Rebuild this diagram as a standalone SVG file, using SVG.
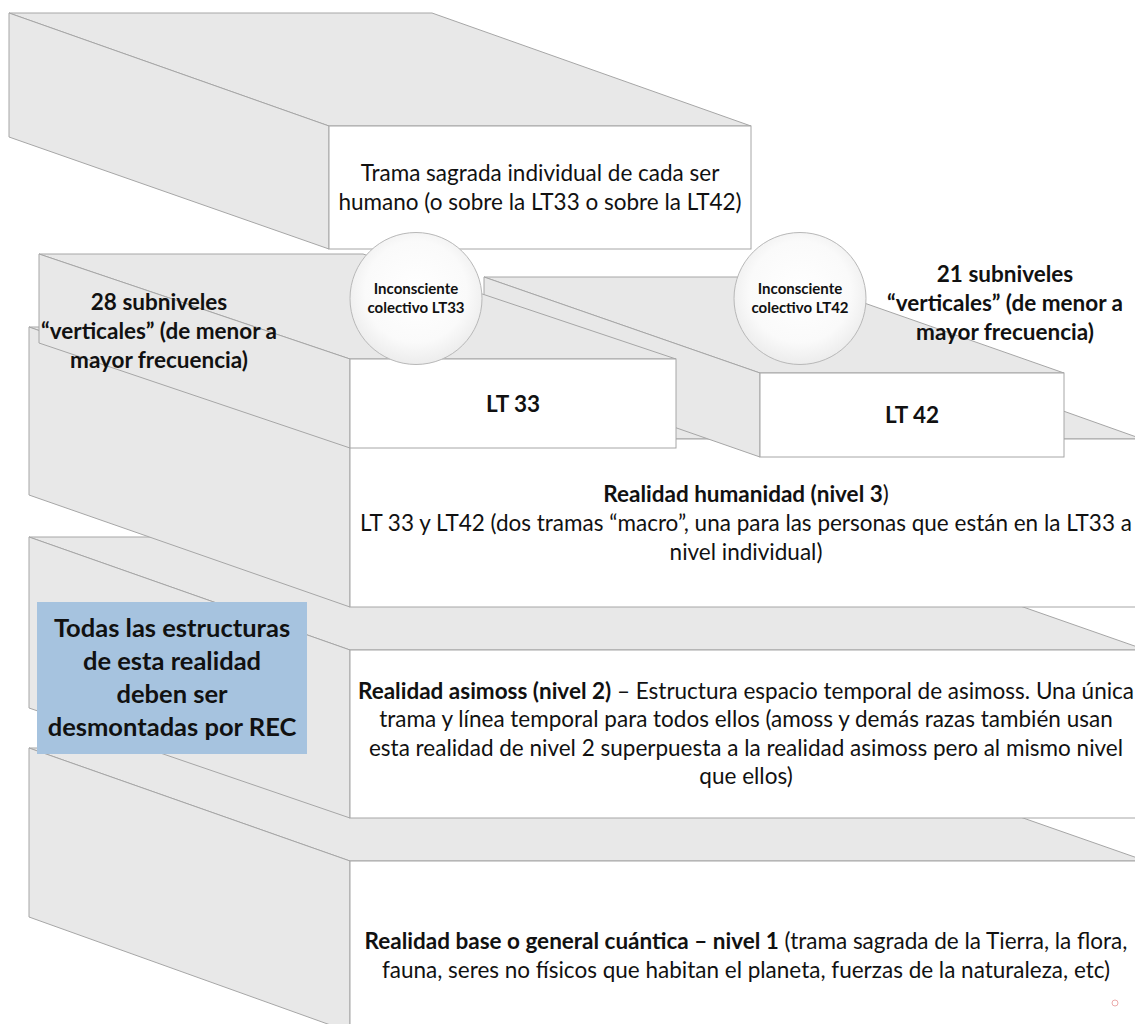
<svg xmlns="http://www.w3.org/2000/svg" width="1135" height="1024" viewBox="0 0 1135 1024">
  <defs>
    <radialGradient id="cg" cx="50%" cy="45%" r="55%">
      <stop offset="0" stop-color="#ffffff"/>
      <stop offset="0.7" stop-color="#fafafa"/>
      <stop offset="1" stop-color="#ececec"/>
    </radialGradient>
    <style>
      .face { fill: #e8e8e8; stroke: #a6a6a6; stroke-width: 1; stroke-linejoin: round; }
      .front { fill: #ffffff; stroke: #a6a6a6; stroke-width: 1; }
      .circ { fill: url(#cg); stroke: #b8b8b8; stroke-width: 1; }
      .t { font-family: Lato, "Liberation Sans", sans-serif; font-size: 22.5px; fill: #111111; text-anchor: middle; }
      .b { font-weight: bold; }
      .n { font-weight: normal; }
      .lab { font-family: Lato, "Liberation Sans", sans-serif; font-size: 22.5px; font-weight: bold; fill: #111111; text-anchor: middle; }
      .ct { font-family: Lato, "Liberation Sans", sans-serif; font-size: 15px; font-weight: bold; fill: #111111; text-anchor: middle; }
      .bt { font-family: Lato, "Liberation Sans", sans-serif; font-size: 25.5px; font-weight: bold; fill: #111111; text-anchor: middle; }
    </style>
  </defs>
  <rect width="1135" height="1024" fill="#ffffff"/>

  <g id="nivel1">
    <polygon class="face" points="29,748 823,748 1146,861 350,861"/>
    <polygon class="face" points="29,748 350,861 350,1032 29,917"/>
    <rect class="front" x="350" y="861" width="800" height="180"/>
    <text class="t" x="746" y="949"><tspan class="b">Realidad base o general cuántica – nivel 1</tspan> (trama sagrada de la Tierra, la flora,</text>
    <text class="t" x="746" y="978">fauna, seres no físicos que habitan el planeta, fuerzas de la naturaleza, etc)</text>
  </g>

  <g id="nivel2">
    <polygon class="face" points="29,537 823,537 1146,650 350,650"/>
    <polygon class="face" points="29,537 350,650 350,818 29,708"/>
    <rect class="front" x="350" y="650" width="800" height="168"/>
    <text class="t" x="746" y="699"><tspan class="b">Realidad asimoss (nivel 2)</tspan> – Estructura espacio temporal de asimoss. Una única</text>
    <text class="t" x="746" y="727">trama y línea temporal para todos ellos (amoss y demás razas también usan</text>
    <text class="t" x="746" y="756">esta realidad de nivel 2 superpuesta a la realidad asimoss pero al mismo nivel</text>
    <text class="t" x="746" y="784">que ellos)</text>
  </g>

  <g id="nivel3">
    <polygon class="face" points="29,327 827,327 1142,439 350,439"/>
    <polygon class="face" points="29,327 350,439 350,607 29,495"/>
    <rect class="front" x="350" y="439" width="800" height="168"/>
    <text class="t" x="746" y="502"><tspan class="b">Realidad humanidad (nivel 3</tspan>)</text>
    <text class="t" x="746" y="531">LT 33 y LT42 (dos tramas “macro”, una para las personas que están en la LT33 a</text>
    <text class="t" x="746" y="560">nivel individual)</text>
  </g>

  <g id="lt42">
    <polygon class="face" points="484,277 790,277 1064,373 760,373"/>
    <polygon class="face" points="484,277 760,373 760,457 484,361"/>
    <rect class="front" x="760" y="373" width="304" height="84"/>
    <text class="lab" x="912" y="423">LT 42</text>
  </g>

  <g id="lt33">
    <polygon class="face" points="39,254 363,254 676,359 350,359"/>
    <polygon class="face" points="39,254 350,359 350,448 39,343"/>
    <rect class="front" x="350" y="359" width="326" height="89"/>
    <text class="lab" x="513" y="412">LT 33</text>
  </g>

  <g id="trama-individual">
    <polygon class="face" points="9,13 432,13 751,126 329,126"/>
    <polygon class="face" points="9,13 329,126 329,249 9,137"/>
    <rect class="front" x="329" y="126" width="422" height="123"/>
    <text class="t" x="540" y="181">Trama sagrada individual de cada ser</text>
    <text class="t" x="540" y="210">humano (o sobre la LT33 o sobre la LT42)</text>
  </g>

  <g id="inconsciente-lt33">
    <circle class="circ" cx="416" cy="298.5" r="66"/>
    <text class="ct" x="416" y="294">Inconsciente</text>
    <text class="ct" x="416" y="313">colectivo LT33</text>
  </g>

  <g id="inconsciente-lt42">
    <circle class="circ" cx="800" cy="298.5" r="66"/>
    <text class="ct" x="800" y="294">Inconsciente</text>
    <text class="ct" x="800" y="313">colectivo LT42</text>
  </g>

  <g id="subniveles-28">
    <text class="lab" x="159" y="310">28 subniveles</text>
    <text class="lab" x="159" y="339">“verticales” (de menor a</text>
    <text class="lab" x="159" y="368">mayor frecuencia)</text>
  </g>

  <g id="subniveles-21">
    <text class="lab" x="1005" y="282">21 subniveles</text>
    <text class="lab" x="1005" y="311">“verticales” (de menor a</text>
    <text class="lab" x="1005" y="340">mayor frecuencia)</text>
  </g>

  <g id="nota-rec">
    <rect x="37" y="602" width="270" height="152" fill="#a6c3df"/>
    <text class="bt" x="172" y="637">Todas las estructuras</text>
    <text class="bt" x="172" y="670">de esta realidad</text>
    <text class="bt" x="172" y="703">deben ser</text>
    <text class="bt" x="172" y="736">desmontadas por REC</text>
  </g>

  <g id="connectors"/>

  <circle cx="1115" cy="1003" r="3" fill="none" stroke="#ecaaaa" stroke-width="1"/>
</svg>
